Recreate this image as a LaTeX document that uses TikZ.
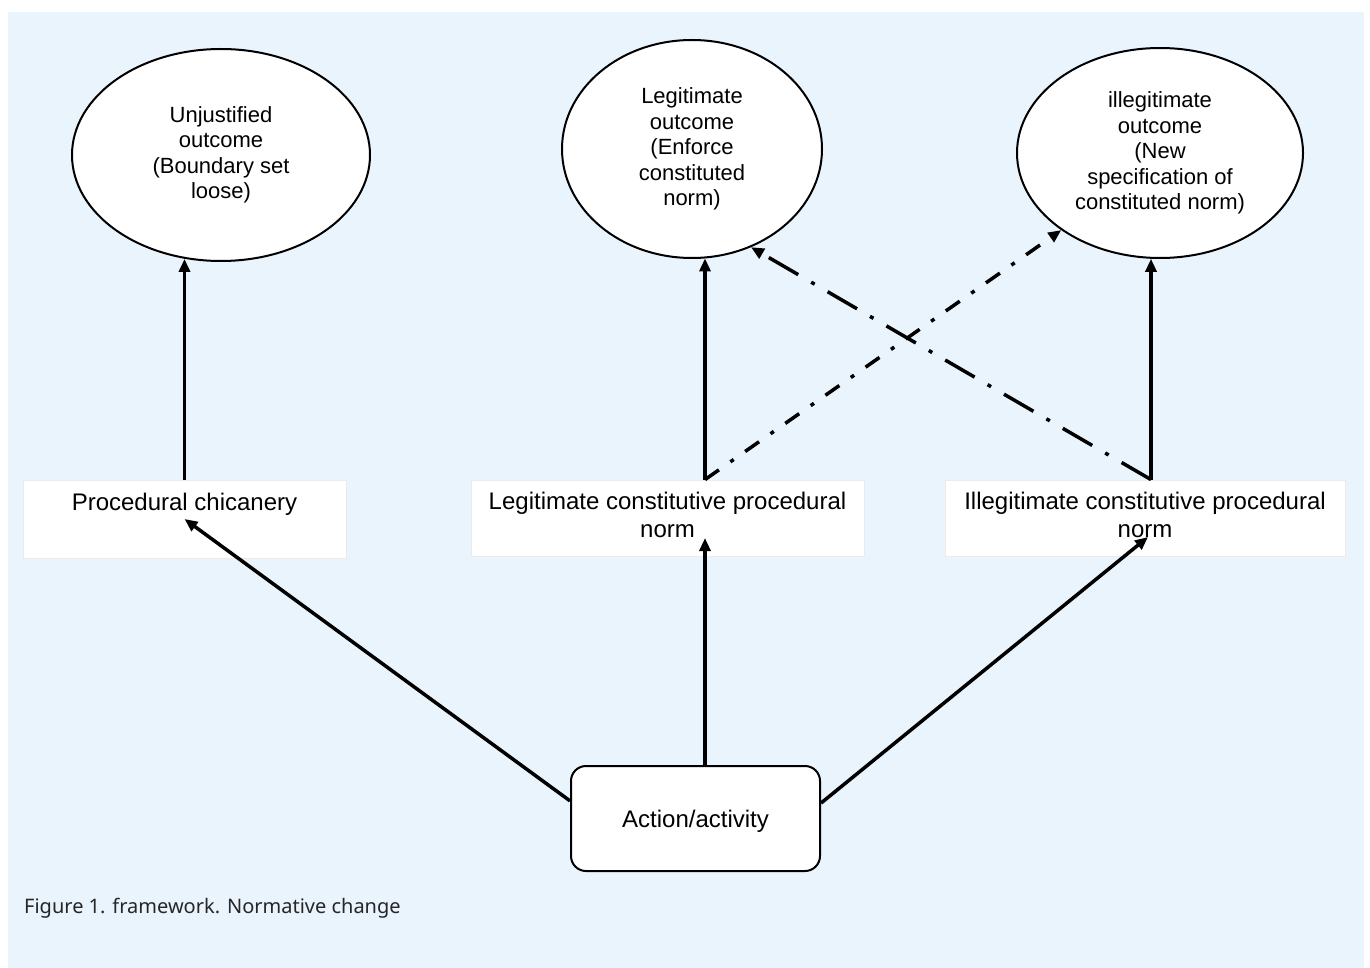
\documentclass[tikz,border=0pt]{standalone}
\usepackage{fontspec}
\setmainfont{Liberation Sans}
\newfontfamily\capfont{Noto Sans}
\usetikzlibrary{shapes.geometric,arrows.meta,calc}
\definecolor{bgblue}{HTML}{EAF4FD}
\begin{document}
\begin{tikzpicture}[x=1pt,y=-1pt,
  ell/.style={draw, line width=2pt, fill=white, ellipse, inner sep=0pt, align=center, font=\fontsize{22}{25.5}\selectfont},
  boxnode/.style={fill=white, draw=black!8, line width=0.8pt, inner sep=0pt},
  boxtext/.style={anchor=north, align=center, font=\fontsize{24}{28}\selectfont, inner sep=0pt},
  arr/.style={line width=3.5pt, -{Triangle[length=13pt,width=11pt]}},
  ddlong/.style={arr, dash pattern=on 34pt off 15pt on 4pt off 15pt},
  ddshort/.style={arr, dash pattern=on 17pt off 14pt on 4pt off 14pt}]
\useasboundingbox (0,0) rectangle (1370,968);
\fill[white] (0,0) rectangle (1370,968);
\fill[bgblue] (8,12) rectangle (1364,968);

% outcomes
\node[ell, minimum width=298pt, minimum height=212pt] (u) at (221,155) {Unjustified\\outcome\\(Boundary set\\loose)};
\node[ell, minimum width=260pt, minimum height=218pt] (l) at (692,149) {Legitimate\\outcome\\(Enforce\\constituted\\norm)};
\node[ell, minimum width=286pt, minimum height=210pt] (r) at (1160,153) {illegitimate\\outcome\\(New\\specification of\\constituted norm)};

% norm boxes
\node[boxnode, minimum width=323pt, minimum height=78pt] (pc) at (184.5,519) {};
\node[boxtext] (pct) at ($(pc.north)+(0,13)$) {Procedural chicanery};
\node[boxnode, minimum width=393pt, minimum height=76pt] (lb) at (667.5,518) {};
\node[boxtext] (lbt) at ($(lb.north)+(0,12)$) {Legitimate constitutive procedural\\norm};
\node[boxnode, minimum width=400pt, minimum height=76pt] (ib) at (1145,518) {};
\node[boxtext] (ibt) at ($(ib.north)+(0,12)$) {Illegitimate constitutive procedural\\norm};

% action
\node[draw, line width=2pt, rounded corners=15pt, fill=white, minimum width=249pt, minimum height=105pt, inner sep=0pt] (a) at (695.5,818.5) {};
\node[font=\fontsize{24}{28}\selectfont, inner sep=0pt] (at) at ($(a.center)+(0,3)$) {Action/activity};

% connectors
\coordinate (lbx) at ($(lb.north)+(37.5,0)$);
\coordinate (ibx) at ($(ib.north)+(6,0)$);
\draw[arr] (pc.north) -- (pc.north |- u.251);
\draw[arr] (lbx) -- (lbx |- l.277);
\draw[arr] (ibx) -- (ibx |- r.265);
\draw[ddshort] (lbx) -- (r.218);
\draw[ddlong] (ibx) -- (l.301);
\draw[arr] (a.172) -- (pc.center);
\draw[arr] (a.north -| lbx) -- ($(lb.center)+(37.5,20)$);
\draw[arr] (a.7) -- ($(ib.center)+(3,19)$);

% caption
\node[anchor=west, font=\capfont\fontsize{20}{24}\selectfont, text=black!85, inner sep=0pt] (cap) at (24,908) {Figure 1. framework. Normative change};
\end{tikzpicture}
\end{document}
